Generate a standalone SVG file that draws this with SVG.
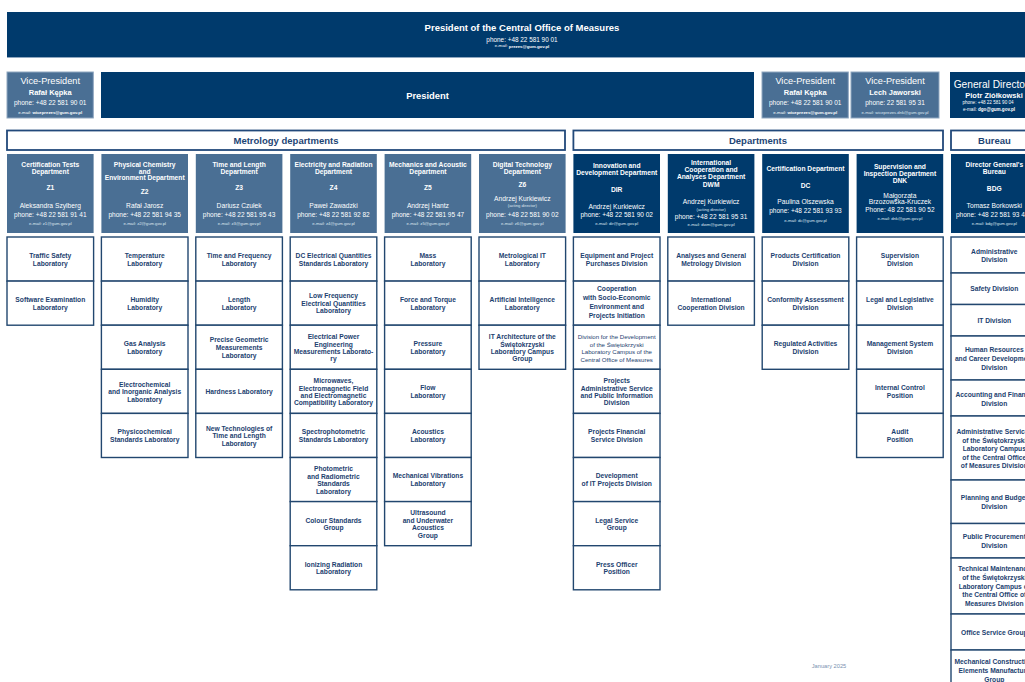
<svg xmlns="http://www.w3.org/2000/svg" width="1025" height="682" viewBox="0 0 1025 682">
<style>
text{font-family:"Liberation Sans",Arial,sans-serif;text-anchor:middle;dominant-baseline:central}
.nav{fill:#003a6c}
.stl{fill:#4a6f94}
.vp{fill:#4a6f94;stroke:#8fa7c0;stroke-width:1}
.sec{fill:#fff;stroke:#22497a;stroke-width:1.8}
.lab{fill:#fff;stroke:#22476f;stroke-width:1.4}
.w{fill:#fff}
.hb{font-weight:bold;font-size:6.7px;fill:#fff}
.nm{font-size:6.7px;fill:#fff}
.ph{font-size:6.5px;fill:#fff}
.em{font-size:4.2px;fill:#dfe7f0}
.ad{font-size:4.2px;fill:#dfe7f0}
.lb{font-weight:bold;font-size:6.7px;fill:#1c416f}
.sm{font-size:6.1px;fill:#1c416f}
.st{font-weight:bold;font-size:9.5px;fill:#1d4575}
.vt{font-size:9.2px;fill:#fff}
.vn{font-weight:bold;font-size:7.5px;fill:#fff}
</style>

<g id="top-president">
<rect x="7" y="12" width="1030" height="46" class="nav"/>
<line x1="7" y1="57.5" x2="1037" y2="57.5" stroke="#8fa7c0" stroke-width="1"/>
<text x="522" y="27.7" font-weight="bold" font-size="9.5" fill="#fff">President of the Central Office of Measures</text>
<text x="522" y="39.3" font-size="6.4" fill="#fff">phone: +48 22 581 90 01</text>
<text x="522" y="45.7" font-size="4.3" fill="#fff">e-mail: <tspan font-weight="bold">prezes@gum.gov.pl</tspan></text>
</g>

<g id="vp1">
<rect x="7" y="72" width="86.3" height="46" class="vp"/>
<text x="50.2" y="80.7" class="vt">Vice-President</text>
<text x="50.2" y="92" class="vn">Rafał Kępka</text>
<text x="50.2" y="102" class="ph">phone: +48 22 581 90 01</text>
<text x="50.2" y="112.2" font-size="4.3" fill="#fff">e-mail: <tspan font-weight="bold">wiceprezes@gum.gov.pl</tspan></text>
</g>
<g id="president">
<rect x="101" y="72" width="653" height="46" class="nav"/>
<text x="427.5" y="95.7" font-weight="bold" font-size="9.4" fill="#fff">President</text>
</g>
<g id="vp2">
<rect x="762" y="72" width="86.3" height="46" class="vp"/>
<text x="805.2" y="80.7" class="vt">Vice-President</text>
<text x="805.2" y="92.3" class="vn">Rafał Kępka</text>
<text x="805.2" y="102.3" class="ph">phone: +48 22 581 90 01</text>
<text x="805.2" y="112.3" font-size="4.3" fill="#fff">e-mail: <tspan font-weight="bold">wiceprezes@gum.gov.pl</tspan></text>
</g>
<g id="vp3">
<rect x="851" y="72" width="88" height="46" class="vp"/>
<text x="895" y="80.7" class="vt">Vice-President</text>
<text x="895" y="92.3" class="vn">Lech Jaworski</text>
<text x="895" y="102.3" class="ph">phone: 22 581 95 31</text>
<text x="895" y="112.3" font-size="4.2" fill="#dfe7f0">e-mail: wiceprezes.dnk@gum.gov.pl</text>
</g>
<g id="general-director">
<rect x="950" y="72" width="87" height="46" class="nav"/>
<text x="991" y="84" font-size="10.2" fill="#fff">General Director</text>
<text x="994" y="95" class="vn">Piotr Ziółkowski</text>
<text x="988" y="102" font-size="4.6" fill="#fff">phone: +48 22 581 90 04</text>
<text x="989" y="109" font-size="4.6" fill="#fff">e-mail: <tspan font-weight="bold">dgo@gum.gov.pl</tspan></text>
</g>

<g id="sec-metrology">
<rect x="7" y="130.5" width="558" height="19.5" class="sec"/>
<text x="286" y="140.3" class="st">Metrology departments</text>
</g>
<g id="sec-departments">
<rect x="573.4" y="130.5" width="369.6" height="19.5" class="sec"/>
<text x="758" y="140.3" class="st">Departments</text>
</g>
<g id="sec-bureau">
<rect x="951" y="130.5" width="90" height="19.5" class="sec"/>
<text x="994.4" y="140.3" class="st">Bureau</text>
</g>

<!-- department heads -->
<g id="Z1">
<rect x="7" y="154" width="86.6" height="79" class="stl"/>
<text x="50.3" y="164.7" class="hb">Certification Tests<tspan x="50.3" dy="6.6">Department</tspan></text>
<text x="50.3" y="187.7" class="hb">Z1</text>
<text x="50.3" y="205" class="nm">Aleksandra Szylberg</text>
<text x="50.3" y="214.3" class="ph">phone: +48 22 581 91 41</text>
<text x="50.3" y="223.3" class="em">e-mail: z1@gum.gov.pl</text>
</g>
<g id="Z2">
<rect x="101.4" y="154" width="86.6" height="79" class="stl"/>
<text x="144.7" y="164" class="hb">Physical Chemistry<tspan x="144.7" dy="6.67">and</tspan><tspan x="144.7" dy="6.67">Environment Department</tspan></text>
<text x="144.7" y="191.7" class="hb">Z2</text>
<text x="144.7" y="205" class="nm">Rafał Jarosz</text>
<text x="144.7" y="214.3" class="ph">phone: +48 22 581 94 35</text>
<text x="144.7" y="223.3" class="em">e-mail: z2@gum.gov.pl</text>
</g>
<g id="Z3">
<rect x="195.8" y="154" width="86.6" height="79" class="stl"/>
<text x="239.1" y="164.7" class="hb">Time and Length<tspan x="239.1" dy="6.6">Department</tspan></text>
<text x="239.1" y="187.7" class="hb">Z3</text>
<text x="239.1" y="205" class="nm">Dariusz Czułek</text>
<text x="239.1" y="214.3" class="ph">phone: +48 22 581 95 43</text>
<text x="239.1" y="223.3" class="em">e-mail: z3@gum.gov.pl</text>
</g>
<g id="Z4">
<rect x="290.2" y="154" width="86.6" height="79" class="stl"/>
<text x="333.5" y="164.7" class="hb">Electricity and Radiation<tspan x="333.5" dy="6.6">Department</tspan></text>
<text x="333.5" y="187" class="hb">Z4</text>
<text x="333.5" y="205" class="nm">Paweł Zawadzki</text>
<text x="333.5" y="214.3" class="ph">phone: +48 22 581 92 82</text>
<text x="333.5" y="223.3" class="em">e-mail: z4@gum.gov.pl</text>
</g>
<g id="Z5">
<rect x="384.6" y="154" width="86.6" height="79" class="stl"/>
<text x="427.9" y="164.7" class="hb">Mechanics and Acoustic<tspan x="427.9" dy="6.6">Department</tspan></text>
<text x="427.9" y="187" class="hb">Z5</text>
<text x="427.9" y="205" class="nm">Andrzej Hantz</text>
<text x="427.9" y="214.3" class="ph">phone: +48 22 581 95 47</text>
<text x="427.9" y="223.3" class="em">e-mail: z5@gum.gov.pl</text>
</g>
<g id="Z6">
<rect x="479" y="154" width="86.6" height="79" class="stl"/>
<text x="522.3" y="164" class="hb">Digital Technology<tspan x="522.3" dy="6.7">Department</tspan></text>
<text x="522.3" y="184.3" class="hb">Z6</text>
<text x="522.3" y="198.3" class="nm">Andrzej Kurkiewicz</text>
<text x="522.3" y="205" class="ad">(acting director)</text>
<text x="522.3" y="214.3" class="ph">phone: +48 22 581 90 02</text>
<text x="522.3" y="223.3" class="em">e-mail: z6@gum.gov.pl</text>
</g>
<g id="DIR">
<rect x="573.4" y="154" width="86.6" height="79" class="nav"/>
<text x="616.7" y="165.3" class="hb">Innovation and<tspan x="616.7" dy="6.7">Development Department</tspan></text>
<text x="616.7" y="189" class="hb">DIR</text>
<text x="616.7" y="206" class="nm">Andrzej Kurkiewicz</text>
<text x="616.7" y="214.3" class="ph">phone: +48 22 581 90 02</text>
<text x="616.7" y="223.3" class="em">e-mail: dir@gum.gov.pl</text>
</g>
<g id="DWM">
<rect x="667.8" y="154" width="86.6" height="79" class="nav"/>
<text x="711.1" y="162.7" class="hb">International<tspan x="711.1" dy="6.65">Cooperation and</tspan><tspan x="711.1" dy="6.65">Analyses Department</tspan></text>
<text x="711.1" y="184.3" class="hb">DWM</text>
<text x="711.1" y="201.7" class="nm">Andrzej Kurkiewicz</text>
<text x="711.1" y="209.3" class="ad">(acting director)</text>
<text x="711.1" y="216" class="ph">phone: +48 22 581 95 31</text>
<text x="711.1" y="224.3" class="em">e-mail: dwm@gum.gov.pl</text>
</g>
<g id="DC">
<rect x="762.2" y="154" width="86.6" height="79" class="nav"/>
<text x="805.5" y="168" class="hb">Certification Department</text>
<text x="805.5" y="185" class="hb">DC</text>
<text x="805.5" y="201.7" class="nm">Paulina Olszewska</text>
<text x="805.5" y="210.7" class="ph">phone: +48 22 581 93 93</text>
<text x="805.5" y="220" class="em">e-mail: dc@gum.gov.pl</text>
</g>
<g id="DNK">
<rect x="856.6" y="154" width="86.6" height="79" class="nav"/>
<text x="899.9" y="166.3" class="hb">Supervision and<tspan x="899.9" dy="6.4">Inspection Department</tspan></text>
<text x="899.9" y="180.7" class="hb">DNK</text>
<text x="899.9" y="195.7" class="nm">Małgorzata<tspan x="899.9" dy="5.6">Brzozowska-Kruczek</tspan></text>
<text x="899.9" y="209.7" class="ph">Phone: 48 22 581 90 52</text>
<text x="899.9" y="218.3" class="em">e-mail: dnk@gum.gov.pl</text>
</g>
<g id="BDG">
<rect x="951" y="154" width="86.6" height="79" class="nav"/>
<text x="994.3" y="164.3" class="hb">Director General's<tspan x="994.3" dy="6.4">Bureau</tspan></text>
<text x="994.3" y="188" class="hb">BDG</text>
<text x="994.3" y="205.3" class="nm">Tomasz Borkowski</text>
<text x="956" y="214" class="ph" text-anchor="start" style="text-anchor:start">phone: +48 22 581 93 4</text>
<text x="994.3" y="223.3" class="em">e-mail: bdg@gum.gov.pl</text>
</g>

<!-- Z1 units -->
<g id="Z1-units">
<rect x="7" y="237" width="86.6" height="44.1" class="lab"/>
<text x="50.3" y="255.4" class="lb">Traffic Safety<tspan x="50.3" dy="7.3">Laboratory</tspan></text>
<rect x="7" y="281.1" width="86.6" height="44.1" class="lab"/>
<text x="50.3" y="299.5" class="lb">Software Examination<tspan x="50.3" dy="7.3">Laboratory</tspan></text>
</g>
<g id="Z2-units">
<rect x="101.4" y="237" width="86.6" height="44.1" class="lab"/>
<text x="144.7" y="255.4" class="lb">Temperature<tspan x="144.7" dy="7.3">Laboratory</tspan></text>
<rect x="101.4" y="281.1" width="86.6" height="44.1" class="lab"/>
<text x="144.7" y="299.5" class="lb">Humidity<tspan x="144.7" dy="7.3">Laboratory</tspan></text>
<rect x="101.4" y="325.2" width="86.6" height="44.1" class="lab"/>
<text x="144.7" y="343.6" class="lb">Gas Analysis<tspan x="144.7" dy="7.3">Laboratory</tspan></text>
<rect x="101.4" y="369.3" width="86.6" height="44.1" class="lab"/>
<text x="144.7" y="384.05" class="lb">Electrochemical<tspan x="144.7" dy="7.3">and Inorganic Analysis</tspan><tspan x="144.7" dy="7.3">Laboratory</tspan></text>
<rect x="101.4" y="413.4" width="86.6" height="44.1" class="lab"/>
<text x="144.7" y="431.8" class="lb">Physicochemical<tspan x="144.7" dy="7.3">Standards Laboratory</tspan></text>
</g>
<g id="Z3-units">
<rect x="195.8" y="237" width="86.6" height="44.1" class="lab"/>
<text x="239.1" y="255.4" class="lb">Time and Frequency<tspan x="239.1" dy="7.3">Laboratory</tspan></text>
<rect x="195.8" y="281.1" width="86.6" height="44.1" class="lab"/>
<text x="239.1" y="299.5" class="lb">Length<tspan x="239.1" dy="7.3">Laboratory</tspan></text>
<rect x="195.8" y="325.2" width="86.6" height="44.1" class="lab"/>
<text x="239.1" y="339.95" class="lb">Precise Geometric<tspan x="239.1" dy="7.3">Measurements</tspan><tspan x="239.1" dy="7.3">Laboratory</tspan></text>
<rect x="195.8" y="369.3" width="86.6" height="44.1" class="lab"/>
<text x="239.1" y="391.35" class="lb">Hardness Laboratory</text>
<rect x="195.8" y="413.4" width="86.6" height="44.1" class="lab"/>
<text x="239.1" y="428.15" class="lb">New Technologies of<tspan x="239.1" dy="7.3">Time and Length</tspan><tspan x="239.1" dy="7.3">Laboratory</tspan></text>
</g>
<g id="Z4-units">
<rect x="290.2" y="237" width="86.6" height="44.1" class="lab"/>
<text x="333.5" y="255.4" class="lb">DC Electrical Quantities<tspan x="333.5" dy="7.3">Standards Laboratory</tspan></text>
<rect x="290.2" y="281.1" width="86.6" height="44.1" class="lab"/>
<text x="333.5" y="295.85" class="lb">Low Frequency<tspan x="333.5" dy="7.3">Electrical Quantities</tspan><tspan x="333.5" dy="7.3">Laboratory</tspan></text>
<rect x="290.2" y="325.2" width="86.6" height="44.1" class="lab"/>
<text x="333.5" y="336.3" class="lb">Electrical Power<tspan x="333.5" dy="7.3">Engineering</tspan><tspan x="333.5" dy="7.3">Measurements Laborato-</tspan><tspan x="333.5" dy="7.3">ry</tspan></text>
<rect x="290.2" y="369.3" width="86.6" height="44.1" class="lab"/>
<text x="333.5" y="380.4" class="lb">Microwaves,<tspan x="333.5" dy="7.3">Electromagnetic Field</tspan><tspan x="333.5" dy="7.3">and Electromagnetic</tspan><tspan x="333.5" dy="7.3">Compatibility Laboratory</tspan></text>
<rect x="290.2" y="413.4" width="86.6" height="44.1" class="lab"/>
<text x="333.5" y="431.8" class="lb">Spectrophotometric<tspan x="333.5" dy="7.3">Standards Laboratory</tspan></text>
<rect x="290.2" y="457.5" width="86.6" height="44.1" class="lab"/>
<text x="333.5" y="468.6" class="lb">Photometric<tspan x="333.5" dy="7.3">and Radiometric</tspan><tspan x="333.5" dy="7.3">Standards</tspan><tspan x="333.5" dy="7.3">Laboratory</tspan></text>
<rect x="290.2" y="501.6" width="86.6" height="44.1" class="lab"/>
<text x="333.5" y="520" class="lb">Colour Standards<tspan x="333.5" dy="7.3">Group</tspan></text>
<rect x="290.2" y="545.7" width="86.6" height="44.1" class="lab"/>
<text x="333.5" y="564.1" class="lb">Ionizing Radiation<tspan x="333.5" dy="7.3">Laboratory</tspan></text>
</g>
<g id="Z5-units">
<rect x="384.6" y="237" width="86.6" height="44.1" class="lab"/>
<text x="427.9" y="255.4" class="lb">Mass<tspan x="427.9" dy="7.3">Laboratory</tspan></text>
<rect x="384.6" y="281.1" width="86.6" height="44.1" class="lab"/>
<text x="427.9" y="299.5" class="lb">Force and Torque<tspan x="427.9" dy="7.3">Laboratory</tspan></text>
<rect x="384.6" y="325.2" width="86.6" height="44.1" class="lab"/>
<text x="427.9" y="343.6" class="lb">Pressure<tspan x="427.9" dy="7.3">Laboratory</tspan></text>
<rect x="384.6" y="369.3" width="86.6" height="44.1" class="lab"/>
<text x="427.9" y="387.7" class="lb">Flow<tspan x="427.9" dy="7.3">Laboratory</tspan></text>
<rect x="384.6" y="413.4" width="86.6" height="44.1" class="lab"/>
<text x="427.9" y="431.8" class="lb">Acoustics<tspan x="427.9" dy="7.3">Laboratory</tspan></text>
<rect x="384.6" y="457.5" width="86.6" height="44.1" class="lab"/>
<text x="427.9" y="475.9" class="lb">Mechanical Vibrations<tspan x="427.9" dy="7.3">Laboratory</tspan></text>
<rect x="384.6" y="501.6" width="86.6" height="44.1" class="lab"/>
<text x="427.9" y="512.7" class="lb">Ultrasound<tspan x="427.9" dy="7.3">and Underwater</tspan><tspan x="427.9" dy="7.3">Acoustics</tspan><tspan x="427.9" dy="7.3">Group</tspan></text>
</g>
<g id="Z6-units">
<rect x="479" y="237" width="86.6" height="44.1" class="lab"/>
<text x="522.3" y="255.4" class="lb">Metrological IT<tspan x="522.3" dy="7.3">Laboratory</tspan></text>
<rect x="479" y="281.1" width="86.6" height="44.1" class="lab"/>
<text x="522.3" y="299.5" class="lb">Artificial Intelligence<tspan x="522.3" dy="7.3">Laboratory</tspan></text>
<rect x="479" y="325.2" width="86.6" height="44.1" class="lab"/>
<text x="522.3" y="336.3" class="lb">IT Architecture of the<tspan x="522.3" dy="7.3">Świętokrzyski</tspan><tspan x="522.3" dy="7.3">Laboratory Campus</tspan><tspan x="522.3" dy="7.3">Group</tspan></text>
</g>
<g id="DIR-units">
<rect x="573.4" y="237" width="86.6" height="44.1" class="lab"/>
<text x="616.7" y="255.4" class="lb">Equipment and Project<tspan x="616.7" dy="7.3">Purchases Division</tspan></text>
<rect x="573.4" y="281.1" width="86.6" height="44.1" class="lab"/>
<text x="616.7" y="288.7" class="lb">Cooperation<tspan x="616.7" dy="8.6">with Socio-Economic</tspan><tspan x="616.7" dy="8.6">Environment and</tspan><tspan x="616.7" dy="8.6">Projects Initiation</tspan></text>
<rect x="573.4" y="325.2" width="86.6" height="44.1" class="lab"/>
<text x="616.7" y="336.6" class="sm">Division for the Development<tspan x="616.7" dy="7.35">of the Świętokrzyski</tspan><tspan x="616.7" dy="7.35">Laboratory Campus of the</tspan><tspan x="616.7" dy="7.35">Central Office of Measures</tspan></text>
<rect x="573.4" y="369.3" width="86.6" height="44.1" class="lab"/>
<text x="616.7" y="380.4" class="lb">Projects<tspan x="616.7" dy="7.3">Administrative Service</tspan><tspan x="616.7" dy="7.3">and Public Information</tspan><tspan x="616.7" dy="7.3">Division</tspan></text>
<rect x="573.4" y="413.4" width="86.6" height="44.1" class="lab"/>
<text x="616.7" y="431.8" class="lb">Projects Financial<tspan x="616.7" dy="7.3">Service Division</tspan></text>
<rect x="573.4" y="457.5" width="86.6" height="44.1" class="lab"/>
<text x="616.7" y="475.9" class="lb">Development<tspan x="616.7" dy="7.3">of IT Projects Division</tspan></text>
<rect x="573.4" y="501.6" width="86.6" height="44.1" class="lab"/>
<text x="616.7" y="520" class="lb">Legal Service<tspan x="616.7" dy="7.3">Group</tspan></text>
<rect x="573.4" y="545.7" width="86.6" height="44.1" class="lab"/>
<text x="616.7" y="564.1" class="lb">Press Officer<tspan x="616.7" dy="7.3">Position</tspan></text>
</g>
<g id="DWM-units">
<rect x="667.8" y="237" width="86.6" height="44.1" class="lab"/>
<text x="711.1" y="255.4" class="lb">Analyses and General<tspan x="711.1" dy="7.3">Metrology Division</tspan></text>
<rect x="667.8" y="281.1" width="86.6" height="44.1" class="lab"/>
<text x="711.1" y="299.5" class="lb">International<tspan x="711.1" dy="7.3">Cooperation Division</tspan></text>
</g>
<g id="DC-units">
<rect x="762.2" y="237" width="86.6" height="44.1" class="lab"/>
<text x="805.5" y="255.4" class="lb">Products Certification<tspan x="805.5" dy="7.3">Division</tspan></text>
<rect x="762.2" y="281.1" width="86.6" height="44.1" class="lab"/>
<text x="805.5" y="299.5" class="lb">Conformity Assessment<tspan x="805.5" dy="7.3">Division</tspan></text>
<rect x="762.2" y="325.2" width="86.6" height="44.1" class="lab"/>
<text x="805.5" y="343.6" class="lb">Regulated Activities<tspan x="805.5" dy="7.3">Division</tspan></text>
</g>
<g id="DNK-units">
<rect x="856.6" y="237" width="86.6" height="44.1" class="lab"/>
<text x="899.9" y="255.4" class="lb">Supervision<tspan x="899.9" dy="7.3">Division</tspan></text>
<rect x="856.6" y="281.1" width="86.6" height="44.1" class="lab"/>
<text x="899.9" y="299.5" class="lb">Legal and Legislative<tspan x="899.9" dy="7.3">Division</tspan></text>
<rect x="856.6" y="325.2" width="86.6" height="44.1" class="lab"/>
<text x="899.9" y="343.6" class="lb">Management System<tspan x="899.9" dy="7.3">Division</tspan></text>
<rect x="856.6" y="369.3" width="86.6" height="44.1" class="lab"/>
<text x="899.9" y="387.7" class="lb">Internal Control<tspan x="899.9" dy="7.3">Position</tspan></text>
<rect x="856.6" y="413.4" width="86.6" height="44.1" class="lab"/>
<text x="899.9" y="431.8" class="lb">Audit<tspan x="899.9" dy="7.3">Position</tspan></text>
</g>
<g id="BDG-units">
<rect x="951" y="237" width="86.6" height="36" class="lab"/>
<text x="994.3" y="251" class="lb">Administrative<tspan x="994.3" dy="8.4">Division</tspan></text>
<rect x="951" y="273" width="86.6" height="31.5" class="lab"/>
<text x="994.3" y="288.7" class="lb">Safety Division</text>
<rect x="951" y="304.5" width="86.6" height="31.5" class="lab"/>
<text x="994.3" y="320" class="lb">IT Division</text>
<rect x="951" y="336" width="86.6" height="44" class="lab"/>
<text x="994.3" y="349.5" class="lb">Human Resources<tspan x="994.3" dy="8.5">and Career Development</tspan><tspan x="994.3" dy="8.5">Division</tspan></text>
<rect x="951" y="380" width="86.6" height="36" class="lab"/>
<text x="994.3" y="394" class="lb">Accounting and Finance<tspan x="994.3" dy="8.5">Division</tspan></text>
<rect x="951" y="416" width="86.6" height="64" class="lab"/>
<text x="994.3" y="431" class="lb">Administrative Services<tspan x="994.3" dy="8.5">of the Świętokrzyski</tspan><tspan x="994.3" dy="8.5">Laboratory Campus</tspan><tspan x="994.3" dy="8.5">of the Central Office</tspan><tspan x="994.3" dy="8.5">of Measures Division</tspan></text>
<rect x="951" y="480" width="86.6" height="43.5" class="lab"/>
<text x="994.3" y="497.7" class="lb">Planning and Budget<tspan x="994.3" dy="8.6">Division</tspan></text>
<rect x="951" y="523.5" width="86.6" height="34.5" class="lab"/>
<text x="994.3" y="536.5" class="lb">Public Procurement<tspan x="994.3" dy="8.6">Division</tspan></text>
<rect x="951" y="558" width="86.6" height="56" class="lab"/>
<text x="994.3" y="568.3" class="lb">Technical Maintenance<tspan x="994.3" dy="8.7">of the Świętokrzyski</tspan><tspan x="994.3" dy="8.7">Laboratory Campus of</tspan><tspan x="994.3" dy="8.7">the Central Office of</tspan><tspan x="994.3" dy="8.7">Measures Division</tspan></text>
<rect x="951" y="614" width="86.6" height="36" class="lab"/>
<text x="994.3" y="632.5" class="lb">Office Service Group</text>
<rect x="951" y="650" width="86.6" height="50" class="lab"/>
<text x="994.3" y="661.7" class="lb">Mechanical Construction<tspan x="994.3" dy="8.65">Elements Manufacture</tspan><tspan x="994.3" dy="8.65">Group</tspan></text>
</g>

<g id="connectors"></g>

<text x="829" y="665.7" font-size="5.7" fill="#7891b0">January 2025</text>
</svg>
